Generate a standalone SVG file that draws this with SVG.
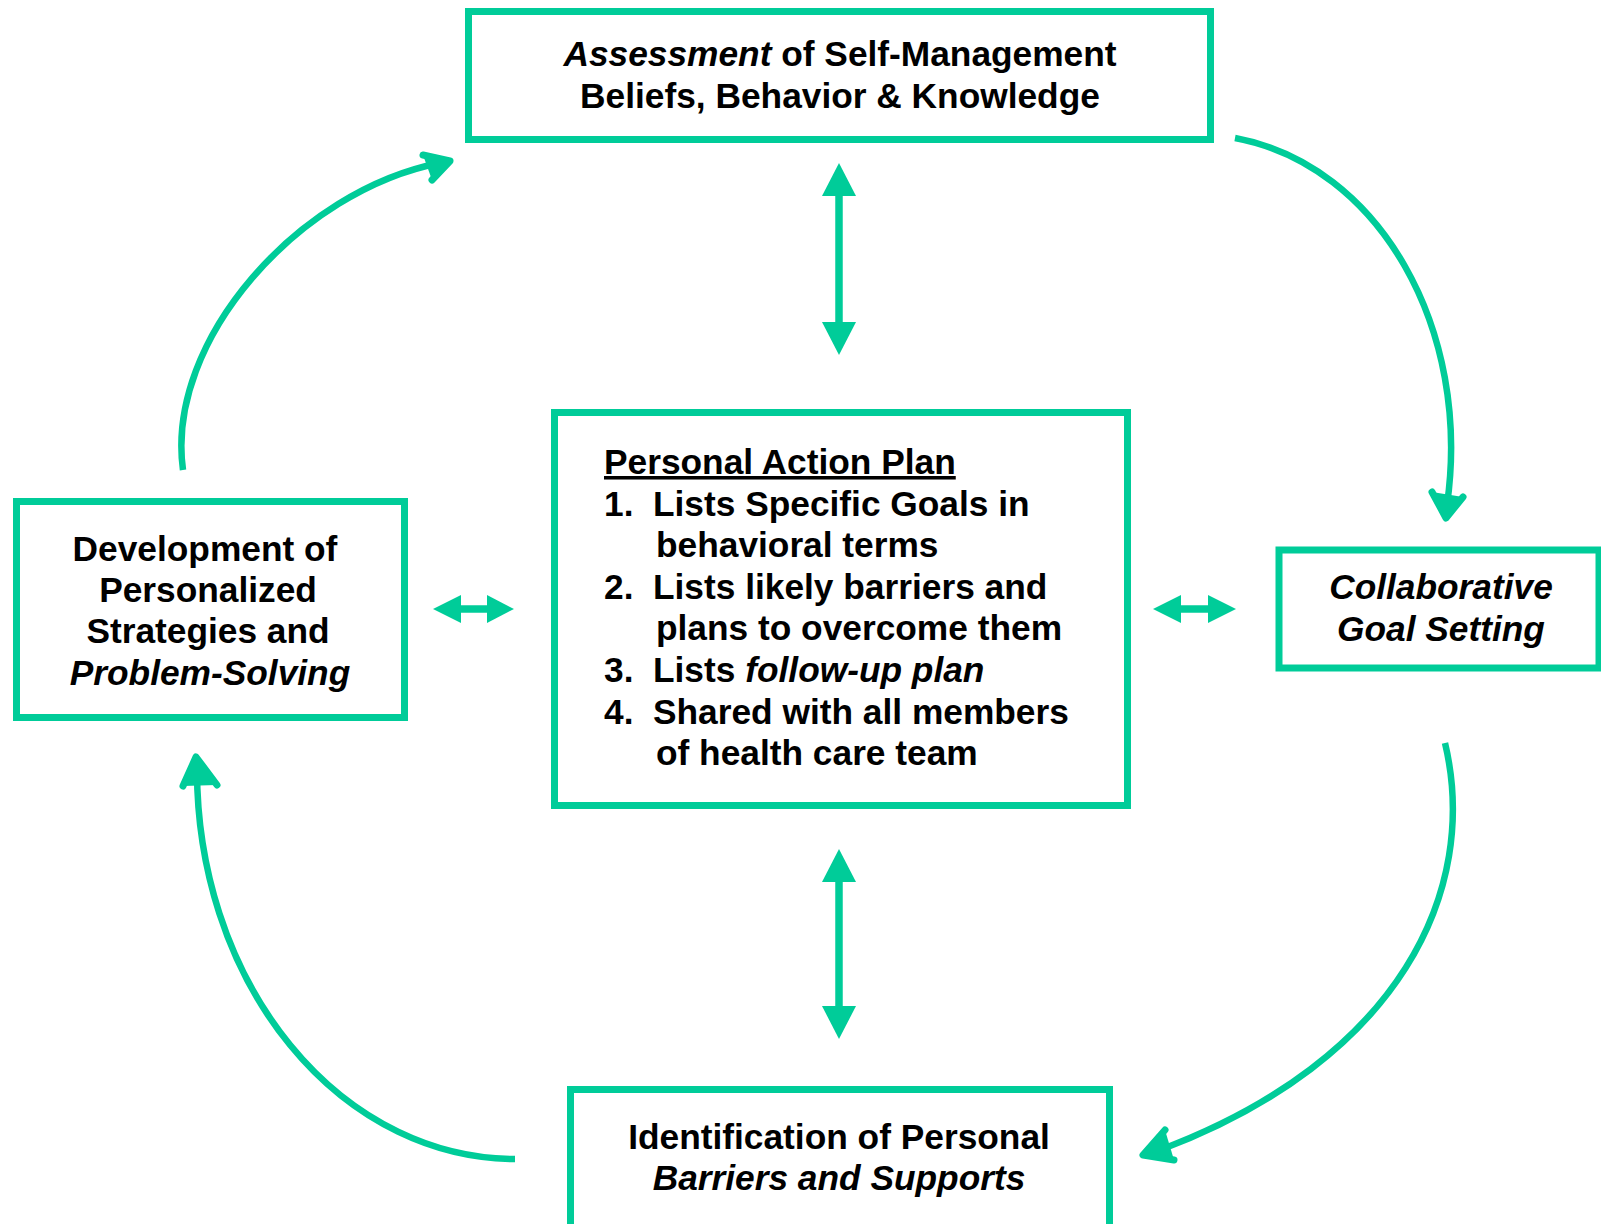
<svg xmlns="http://www.w3.org/2000/svg" width="1601" height="1224" viewBox="0 0 1601 1224">
<style>
.box{fill:#fff;stroke:#00CC99;stroke-width:7}
.t{font-family:"Liberation Sans",Arial,sans-serif;font-weight:bold;font-size:35.3px;fill:#000}
.c{text-anchor:middle}
.i{font-style:italic}
.curve{fill:none;stroke:#00CC99;stroke-width:6.5}
.head{fill:#00CC99;stroke:#00CC99;stroke-width:7;stroke-linejoin:round;stroke-linecap:round}
.shaft{stroke:#00CC99;stroke-width:7.5}
.tri{fill:#00CC99}
</style>
<rect width="1601" height="1224" fill="#fff"/>
<g id="connectors">
  <path class="curve" d="M1235,138 C1380,165 1472,330 1447,505"/>
  <polyline class="head" points="1432,492 1446,518 1463,497" fill="none"/>
  <path class="curve" d="M1445,743 C1480,890 1400,1060 1160,1150"/>
  <polyline class="head" points="1165,1130 1143,1155 1174,1160" fill="none"/>
  <path class="curve" d="M515,1159 A318,389 0 0 1 197,770"/>
  <polyline class="head" points="183,786 196,757 217,785" fill="none"/>
  <path class="curve" d="M183,470 C165,340 300,190 440,163"/>
  <polyline class="head" points="423,155 450,161 432,180" fill="none"/>
  <line class="shaft" x1="839" y1="190" x2="839" y2="328"/>
  <polygon class="tri" points="839,163 856,196 822,196"/>
  <polygon class="tri" points="839,355 856,322 822,322"/>
  <line class="shaft" x1="839" y1="870" x2="839" y2="1010"/>
  <polygon class="tri" points="839,849 856,882 822,882"/>
  <polygon class="tri" points="839,1039 856,1006 822,1006"/>
  <line class="shaft" x1="455" y1="609" x2="492" y2="609"/>
  <polygon class="tri" points="433,609 461,595 461,623"/>
  <polygon class="tri" points="514,609 487,595 487,623"/>
  <line class="shaft" x1="1175" y1="609" x2="1214" y2="609"/>
  <polygon class="tri" points="1153,609 1181,595 1181,623"/>
  <polygon class="tri" points="1236,609 1208,595 1208,623"/>
</g>
<g id="assessment">
  <rect class="box" x="468.5" y="11.5" width="742" height="128"/>
  <text class="t c" x="840" y="66"><tspan class="i">Assessment</tspan> of Self-Management</text>
  <text class="t c" x="840" y="108">Beliefs, Behavior &amp; Knowledge</text>
</g>
<g id="action-plan">
  <rect class="box" x="554.5" y="412.5" width="573" height="393"/>
  <text class="t" x="604" y="474" text-decoration="underline">Personal Action Plan</text>
  <text class="t" x="604" y="516">1.</text>
  <text class="t" x="653" y="516">Lists Specific Goals in</text>
  <text class="t" x="656" y="557">behavioral terms</text>
  <text class="t" x="604" y="599">2.</text>
  <text class="t" x="653" y="599">Lists likely barriers and</text>
  <text class="t" x="656" y="640">plans to overcome them</text>
  <text class="t" x="604" y="682">3.</text>
  <text class="t" x="653" y="682">Lists <tspan class="i">follow-up plan</tspan></text>
  <text class="t" x="604" y="724">4.</text>
  <text class="t" x="653" y="724">Shared with all members</text>
  <text class="t" x="656" y="765">of health care team</text>
</g>
<g id="development">
  <rect class="box" x="16.5" y="501.5" width="388" height="216"/>
  <text class="t c" x="205" y="561">Development of</text>
  <text class="t c" x="208" y="602">Personalized</text>
  <text class="t c" x="208" y="643">Strategies and</text>
  <text class="t c i" x="210" y="685">Problem-Solving</text>
</g>
<g id="goal-setting">
  <rect class="box" x="1279" y="550" width="320" height="118"/>
  <text class="t c i" x="1441" y="599">Collaborative</text>
  <text class="t c i" x="1441" y="641">Goal Setting</text>
</g>
<g id="barriers">
  <rect class="box" x="570.5" y="1089.5" width="539" height="147"/>
  <text class="t c" x="839" y="1149">Identification of Personal</text>
  <text class="t c i" x="839" y="1190">Barriers and Supports</text>
</g>
</svg>
